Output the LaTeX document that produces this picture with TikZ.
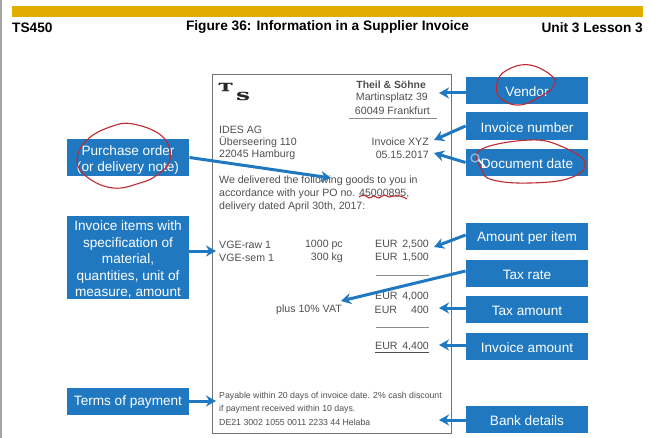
\documentclass[tikz,border=0pt]{standalone}
\usepackage{fontspec}
\usetikzlibrary{arrows.meta}
\setmainfont{Liberation Sans}
\newfontfamily\logofont[BoldFeatures={FakeBold=1.5}]{DejaVu Serif}
\definecolor{sapblue}{HTML}{1F78C0}
\definecolor{sapgold}{HTML}{E3AC00}
\definecolor{penred}{HTML}{BE2A32}
\definecolor{doctext}{HTML}{4F4F4F}
\tikzset{
  bluebox/.style={fill=sapblue, text=white, minimum width=122.5pt, inner sep=0pt, align=center, font=\fontsize{13.6}{16.6}\selectfont, execute at begin node=\rule{0pt}{12.4pt}},
  doc/.style={text=doctext, inner sep=0pt, yshift=-0.7pt, font=\fontsize{10.6}{13}\selectfont},
  docleft/.style={doc, anchor=west},
  docright/.style={doc, anchor=east},
  smallprint/.style={doc, anchor=west, font=\fontsize{8.75}{12.5}\selectfont},
  head/.style={inner sep=0pt, yshift=-0.8pt, text=black, font=\fontsize{13.7}{15}\bfseries\selectfont},
  logo/.style={inner sep=0pt, text=black!85, font=\logofont\bfseries\fontsize{11}{11}\selectfont},
  arw/.style={-{Stealth[length=10pt, width=11pt]}, sapblue, line width=3pt},
  rule/.style={draw=black!45, line width=0.8pt},
  pen/.style={penred, line width=1.1pt},
}
\begin{document}
\begin{tikzpicture}[x=1pt, y=-1pt]
	\useasboundingbox (0,0) rectangle (652,438);
	\fill[white] (0,0) rectangle (652,438);
	\fill[black!35] (0,0) rectangle (1.5,438);
	% page head
	\fill[sapgold] (12,6) rectangle (643,17);
	\node[head, anchor=west] (course) at (12,26.5) {TS450};
	\node[head] (title) at (327.5,26.5) {Figure 36: Information in a Supplier Invoice};
	\node[head, anchor=east] (unit) at (643,26.5) {Unit 3 Lesson 3};
	% the invoice
	\draw[draw=black!55, line width=1pt] (212,75) rectangle (451.5,433);
	\node[logo, xscale=1.7] (logot) at (225.5,87) {T};
	\node[logo, xscale=1.8] (logos) at (243,96) {S};
	\node[docright, font=\bfseries\fontsize{10.4}{13}\selectfont] (vendorname) at (426,84) {Theil \& Söhne};
	\foreach \nm/\xx/\yy/\txt in {street/428/97/Martinsplatz 39, town/430/110/60049 Frankfurt, invno/429/141/Invoice XYZ, invdate/429/154/05.15.2017,
		sumone/429/244/{EUR\, 2,500}, sumtwo/429/257/{EUR\, 1,500}, subtotal/429/296/{EUR\, 4,000}, vatsum/429/309/{EUR\hspace{14pt}400}, qtyone/343/244/1000 pc, qtytwo/343/257/300 kg, vatline/342/309/plus 10\% VAT} {
		\node[docright] (\nm) at (\xx,\yy) {\txt};
	}
	\node[docright] (total) at (429,347) {\underline{EUR\, 4,400}};
	\foreach \nm/\yy/\txt in {ides/129/IDES AG, ides2/141.5/Überseering 110, ides3/154.5/22045 Hamburg,
		body1/180/We delivered the following goods to you in, body2/193/{accordance with your PO no. 45000895,}, body3/206/{delivery dated April 30th, 2017:},
		itemone/244/VGE-raw 1, itemtwo/257/VGE-sem 1} {
		\node[docleft] (\nm) at (219,\yy) {\txt};
	}
	\foreach \nm/\yy/\txt in {pay1/396/Payable within 20 days of invoice date. 2\% cash discount, pay2/409/if payment received within 10 days., pay3/421.5/DE21 3002 1055 0011 2233 44 Helaba} {
		\node[smallprint] (\nm) at (219,\yy) {\txt};
	}
	\draw[rule] (349,118) -- (437,118);
	\draw[rule] (376,275) -- (429,275);
	\draw[rule] (376,327) -- (429,327);
	% left boxes
	\node[bluebox, minimum height=37pt] (purchase) at (128,157.5) {\rule{0pt}{15pt}Purchase order\\(or delivery note)};
	\node[bluebox, minimum height=81.5pt] (items) at (128,257.5) {\rule{0pt}{14pt}Invoice items with\\specification of\\material,\\quantities, unit of\\measure, amount};
	\node[bluebox, minimum height=27pt] (terms) at (128,401) {Terms of payment};
	% right boxes
	\foreach \nm/\yy/\hh/\txt in {vendor/90.5/27/Vendor, invnumber/126/28/Invoice number, docdate/162.5/27.5/Document date, peritem/236.5/27/Amount per item, taxrate/273.5/27/Tax rate, taxamount/309.5/27/Tax amount, invamount/346.5/27/Invoice amount, bank/419.5/27/Bank details} {
		\node[bluebox, minimum height=\hh pt] (\nm) at (527,\yy) {\txt};
	}
	% arrow ends
	\foreach \nm/\xx/\yy in {toorder/331/178, toitems/216/251, toterms/216/401, tovendor/439/93, tonumber/434/140, todate/434/153, toitem/434/247, torate/341/301, totax/439/308, toinv/439/345, tobank/439/420} {
		\coordinate (\nm) at (\xx,\yy);
	}
	\draw[arw] (purchase.east) -- (toorder);
	\draw[arw] (items.east |- toitems) -- (toitems);
	\draw[arw] (terms.east) -- (toterms);
	\draw[arw] (vendor.west |- tovendor) -- (tovendor);
	\draw[arw] (invnumber.west) -- (tonumber);
	\draw[arw] (docdate.west) -- (todate);
	\draw[arw] ([yshift=1.5pt]peritem.west) -- (toitem);
	\draw[arw] ([yshift=2.5pt]taxrate.west) -- (torate);
	\draw[arw] (taxamount.west |- totax) -- (totax);
	\draw[arw] (invamount.west |- toinv) -- (toinv);
	\draw[arw] (bank.west |- tobank) -- (tobank);
	% red pen marks
	\draw[pen] plot[smooth cycle, tension=0.7] coordinates {(133,124) (163,137) (170,160) (157,175) (140,183) (113,188) (87,177) (77,160) (87,140) (110,127)};
	\draw[pen] plot[smooth cycle, tension=0.7] coordinates {(530,65) (553,77) (553,87) (543,95) (520,105) (500,98) (497,83) (507,70)};
	\draw[pen] plot[smooth cycle, tension=0.7] coordinates {(480,150) (530,140) (563,147) (585,163) (570,178) (530,183) (493,180) (482,170)};
	\draw[pen] plot[smooth, tension=0.7] coordinates {(359,197) (364,195) (369,198) (374,196) (379,198) (384,195) (389,197) (394,196) (400,196) (407,199)};
	% cursor
	\draw[black!10!sapblue!50, line width=1.4pt] (475,158) circle (4);
	\draw[white, line width=1.6pt, line cap=round] (479,160) -- (485,167);
\end{tikzpicture}
\end{document}
